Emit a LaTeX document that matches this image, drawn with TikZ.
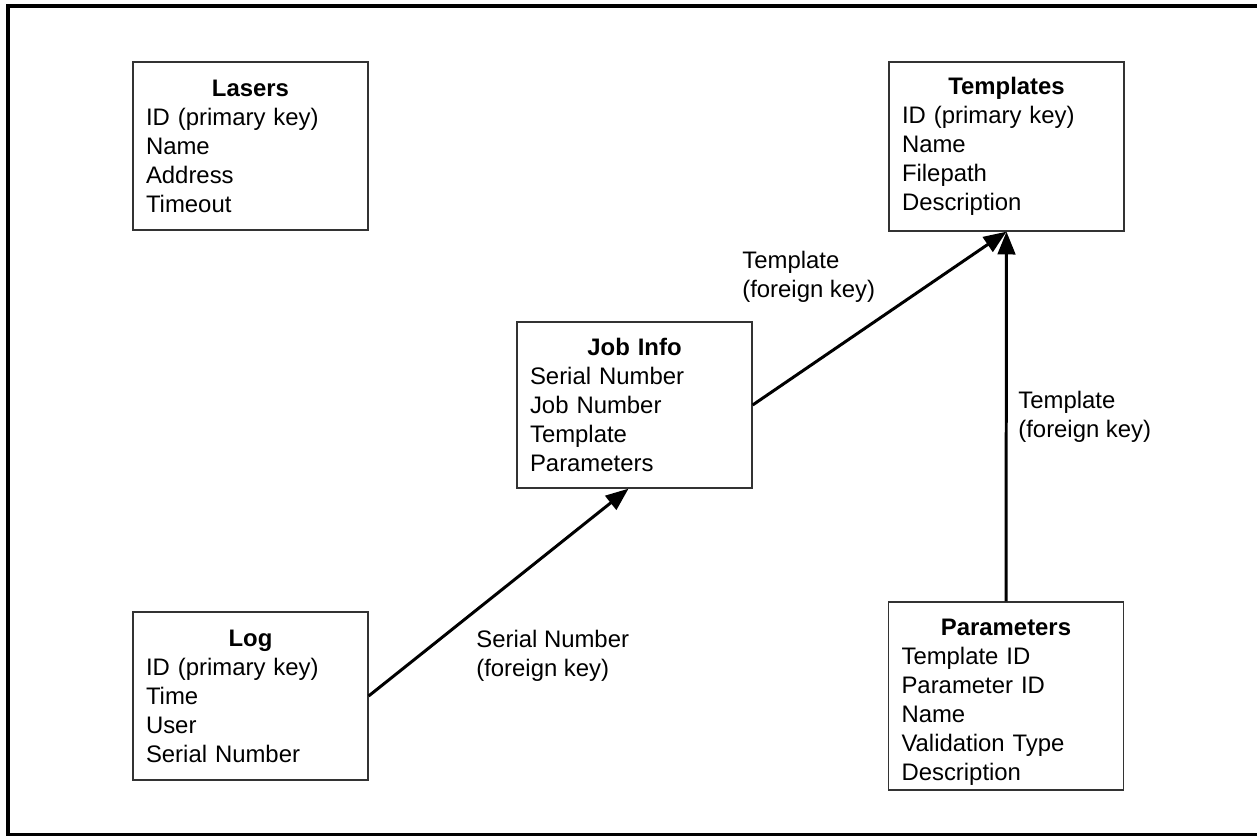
\documentclass[tikz,border=0pt]{standalone}
\usepackage{fontspec}
\setmainfont{Liberation Sans}
\usetikzlibrary{arrows.meta}
\setlength{\parindent}{0pt}
\newcommand{\tabw}{4.7cm}
\newcommand{\tabhead}[1]{\makebox[\hsize]{\textbf{#1}}}
\tikzset{
  dbtable/.style = {
    draw=black!80, line width=0.75pt, minimum width=\tabw,
    text width=4.18cm, inner xsep=0.26cm, inner ysep=0pt, align=left,
    font=\fontsize{13.6pt}{16.5pt}\selectfont
  },
  fklabel/.style = {
    inner sep=0pt, anchor=north west, align=left,
    font=\fontsize{13.6pt}{16.5pt}\selectfont
  }
}
\tikzset{>={Triangle[length=13pt,width=10pt]}}

\begin{document}
\begin{tikzpicture}[x=0.02cm, y=-0.02cm]
  \tikzstyle{fkarrow}=[line width=1.7pt, draw=black, ->]
  \useasboundingbox (0,0) rectangle (1257,836);
  \draw[line width=2pt] (8,6) rectangle (1262,834.5);
  % tables
  \node[dbtable, minimum height=3.36cm] (lasers) at (250.5,146) {\tabhead{Lasers}\\ ID (primary key)\\ Name\\ Address\\ Timeout};
  \node[dbtable, minimum height=3.38cm] (templates) at (1006.5,146.5) {\tabhead{Templates}\\ ID (primary key)\\ Name\\ Filepath\\ Description};
  \node[dbtable, minimum height=3.32cm] (jobinfo) at (634.5,405) {\tabhead{Job Info}\\ Serial Number\\ Job Number\\ Template\\ Parameters};
  \node[dbtable, minimum height=3.36cm] (log) at (250.5,696) {\tabhead{Log}\\ ID (primary key)\\ Time\\ User\\ Serial Number};
  \node[dbtable, minimum height=3.76cm] (params) at (1006,696) {\tabhead{\rule{0pt}{16pt}Parameters}\\ Template ID\\ Parameter ID\\ Name\\ Validation Type\\ Description};
  % foreign keys
  \draw[fkarrow] (log.east) -- ([xshift=-0.12cm]jobinfo.south);
  \draw[fkarrow] (jobinfo.east) -- (templates.south);
  \draw[fkarrow] (params.north) -- (templates.south);
  \node[fklabel] (fkserial) at (476,630) {Serial Number\\ (foreign key)};
  \node[fklabel] (fkjob) at (742,251) {Template\\ (foreign key)};
  \node[fklabel] (fkparams) at (1018,391) {Template\\ (foreign key)};
\end{tikzpicture}
\end{document}
